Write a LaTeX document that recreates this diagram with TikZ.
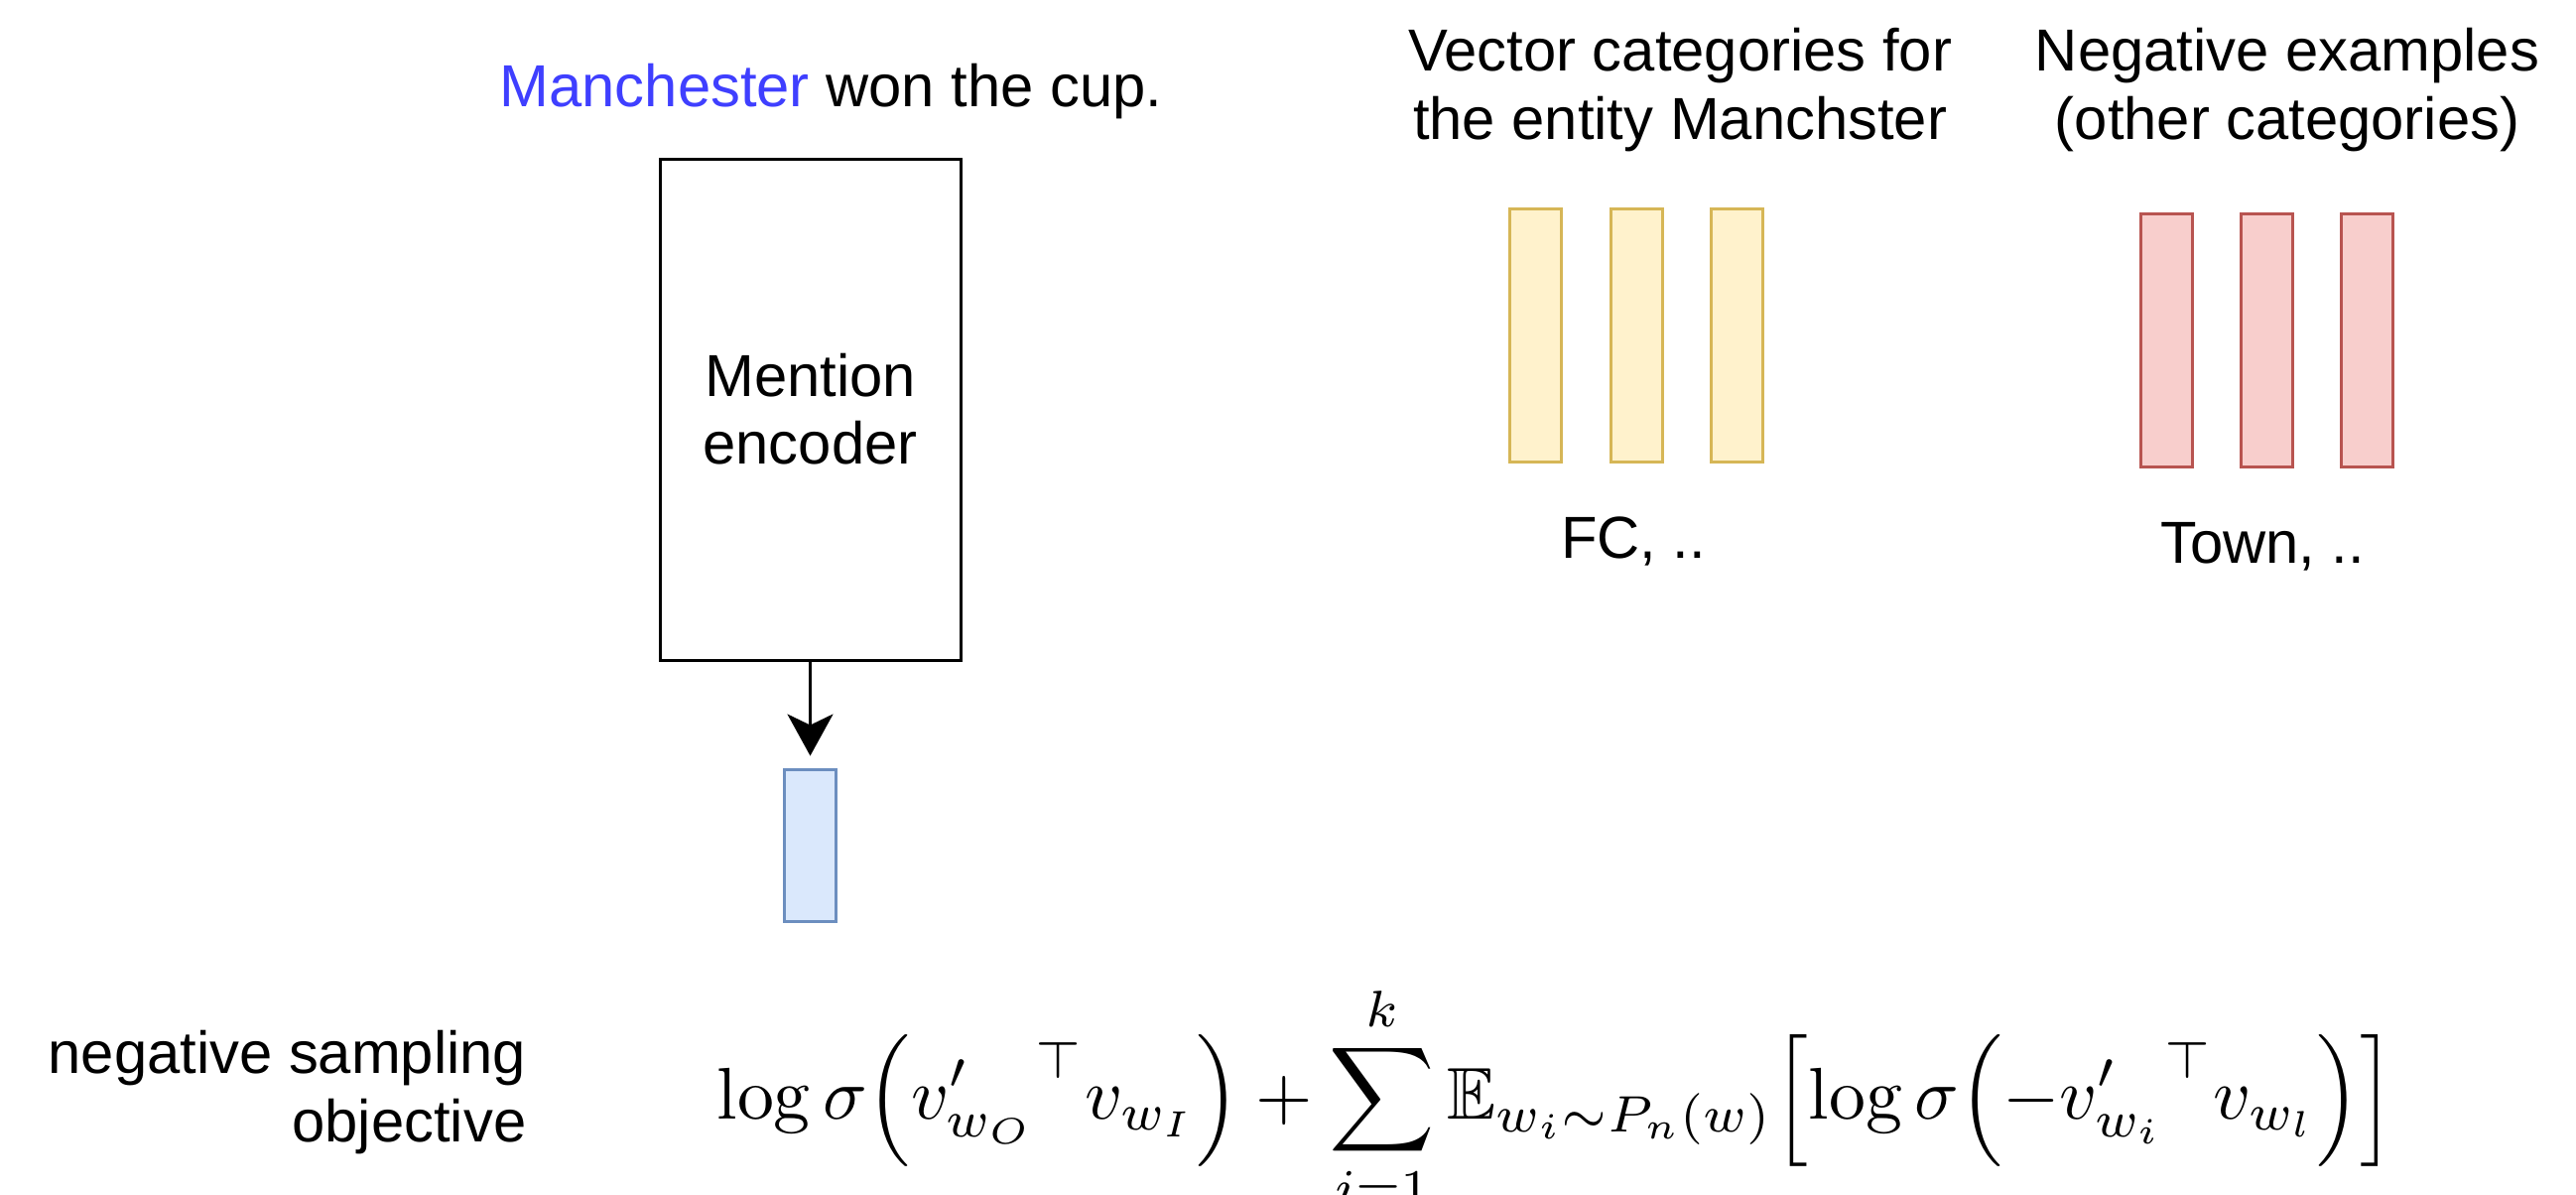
\documentclass[tikz,border=0pt]{standalone}
\usepackage{fontspec}
\usepackage{amsmath,amssymb}
\usetikzlibrary{arrows.meta}
\newfontfamily\drawiofont{Liberation Sans}
\definecolor{mentionblue}{HTML}{3F3FFF}
\definecolor{posfill}{HTML}{FFF2CC}
\definecolor{posline}{HTML}{D6B656}
\definecolor{negfill}{HTML}{F8CECC}
\definecolor{negline}{HTML}{B85450}
\definecolor{mvecfill}{HTML}{DAE8FC}
\definecolor{mvecline}{HTML}{6C8EBF}

\tikzset{
	drawio text/.style={font=\drawiofont\fontsize{17pt}{19.4pt}\selectfont, inner sep=0pt},
	vec box/.style={draw, line width=0.85pt, minimum width=5.2mm, inner sep=0pt},
	pos vec/.style={vec box, fill=posfill, draw=posline, minimum height=2.55cm},
	neg vec/.style={vec box, fill=negfill, draw=negline, minimum height=2.55cm},
}

\begin{document}
\begin{tikzpicture}
			%%%%% START %%%%%
			\useasboundingbox (0,0) rectangle (25.96,-12.03);
			
			\node[drawio text, anchor=base] (sentence) at (8.375,-1.07) {\textcolor{mentionblue}{Manchester} won the cup.};
			
			\node[draw, line width=0.85pt, minimum width=3.03cm, minimum height=5.05cm, drawio text, align=center] (encoder) at (8.165,-4.125) {Mention\\encoder};
			\node[vec box, fill=mvecfill, draw=mvecline, minimum height=1.53cm] (mention) at (8.165,-8.515) {};
			\draw[line width=0.85pt, -{Stealth[length=4.2mm, width=4.6mm, inset=1.1mm]}, shorten >=1.2mm] (encoder) -- (mention);
			
			% base of a two-line node sits on its last line
			\node[drawio text, align=center, anchor=base] (poshead) at (16.93,-1.40) {Vector categories for\\the entity Manchster};
			\node[pos vec] (pos1) at (15.475,-3.375) {};
			\node[pos vec] (pos2) at (16.49,-3.375) {};
			\node[pos vec] (pos3) at (17.50,-3.375) {};
			\node[drawio text, anchor=base] (poslabel) at (16.46,-5.62) {FC, ..};
			
			\node[drawio text, align=center, anchor=base] (neghead) at (23.05,-1.40) {Negative examples\\(other categories)};
			\node[neg vec] (neg1) at (21.835,-3.425) {};
			\node[neg vec] (neg2) at (22.84,-3.425) {};
			\node[neg vec] (neg3) at (23.85,-3.425) {};
			\node[drawio text, anchor=base] (neglabel) at (22.80,-5.67) {Town, ..};
			
			\node[drawio text, align=right, anchor=base east] (objlabel) at (5.31,-11.50) {negative sampling\\objective};
			\node[anchor=base west, inner sep=0pt, scale=2.1] (objective) at (7.21,-11.27) {$\displaystyle \log\sigma\Bigl({v'_{w_O}}^{\top} v_{w_I}\Bigr) + \sum_{i=1}^{k} \mathbb{E}_{w_i\sim P_n(w)}\Bigl[\log\sigma\Bigl(-{v'_{w_i}}^{\top} v_{w_l}\Bigr)\Bigr]$};
			
			%%%%% END %%%%%
\end{tikzpicture}
\end{document}
